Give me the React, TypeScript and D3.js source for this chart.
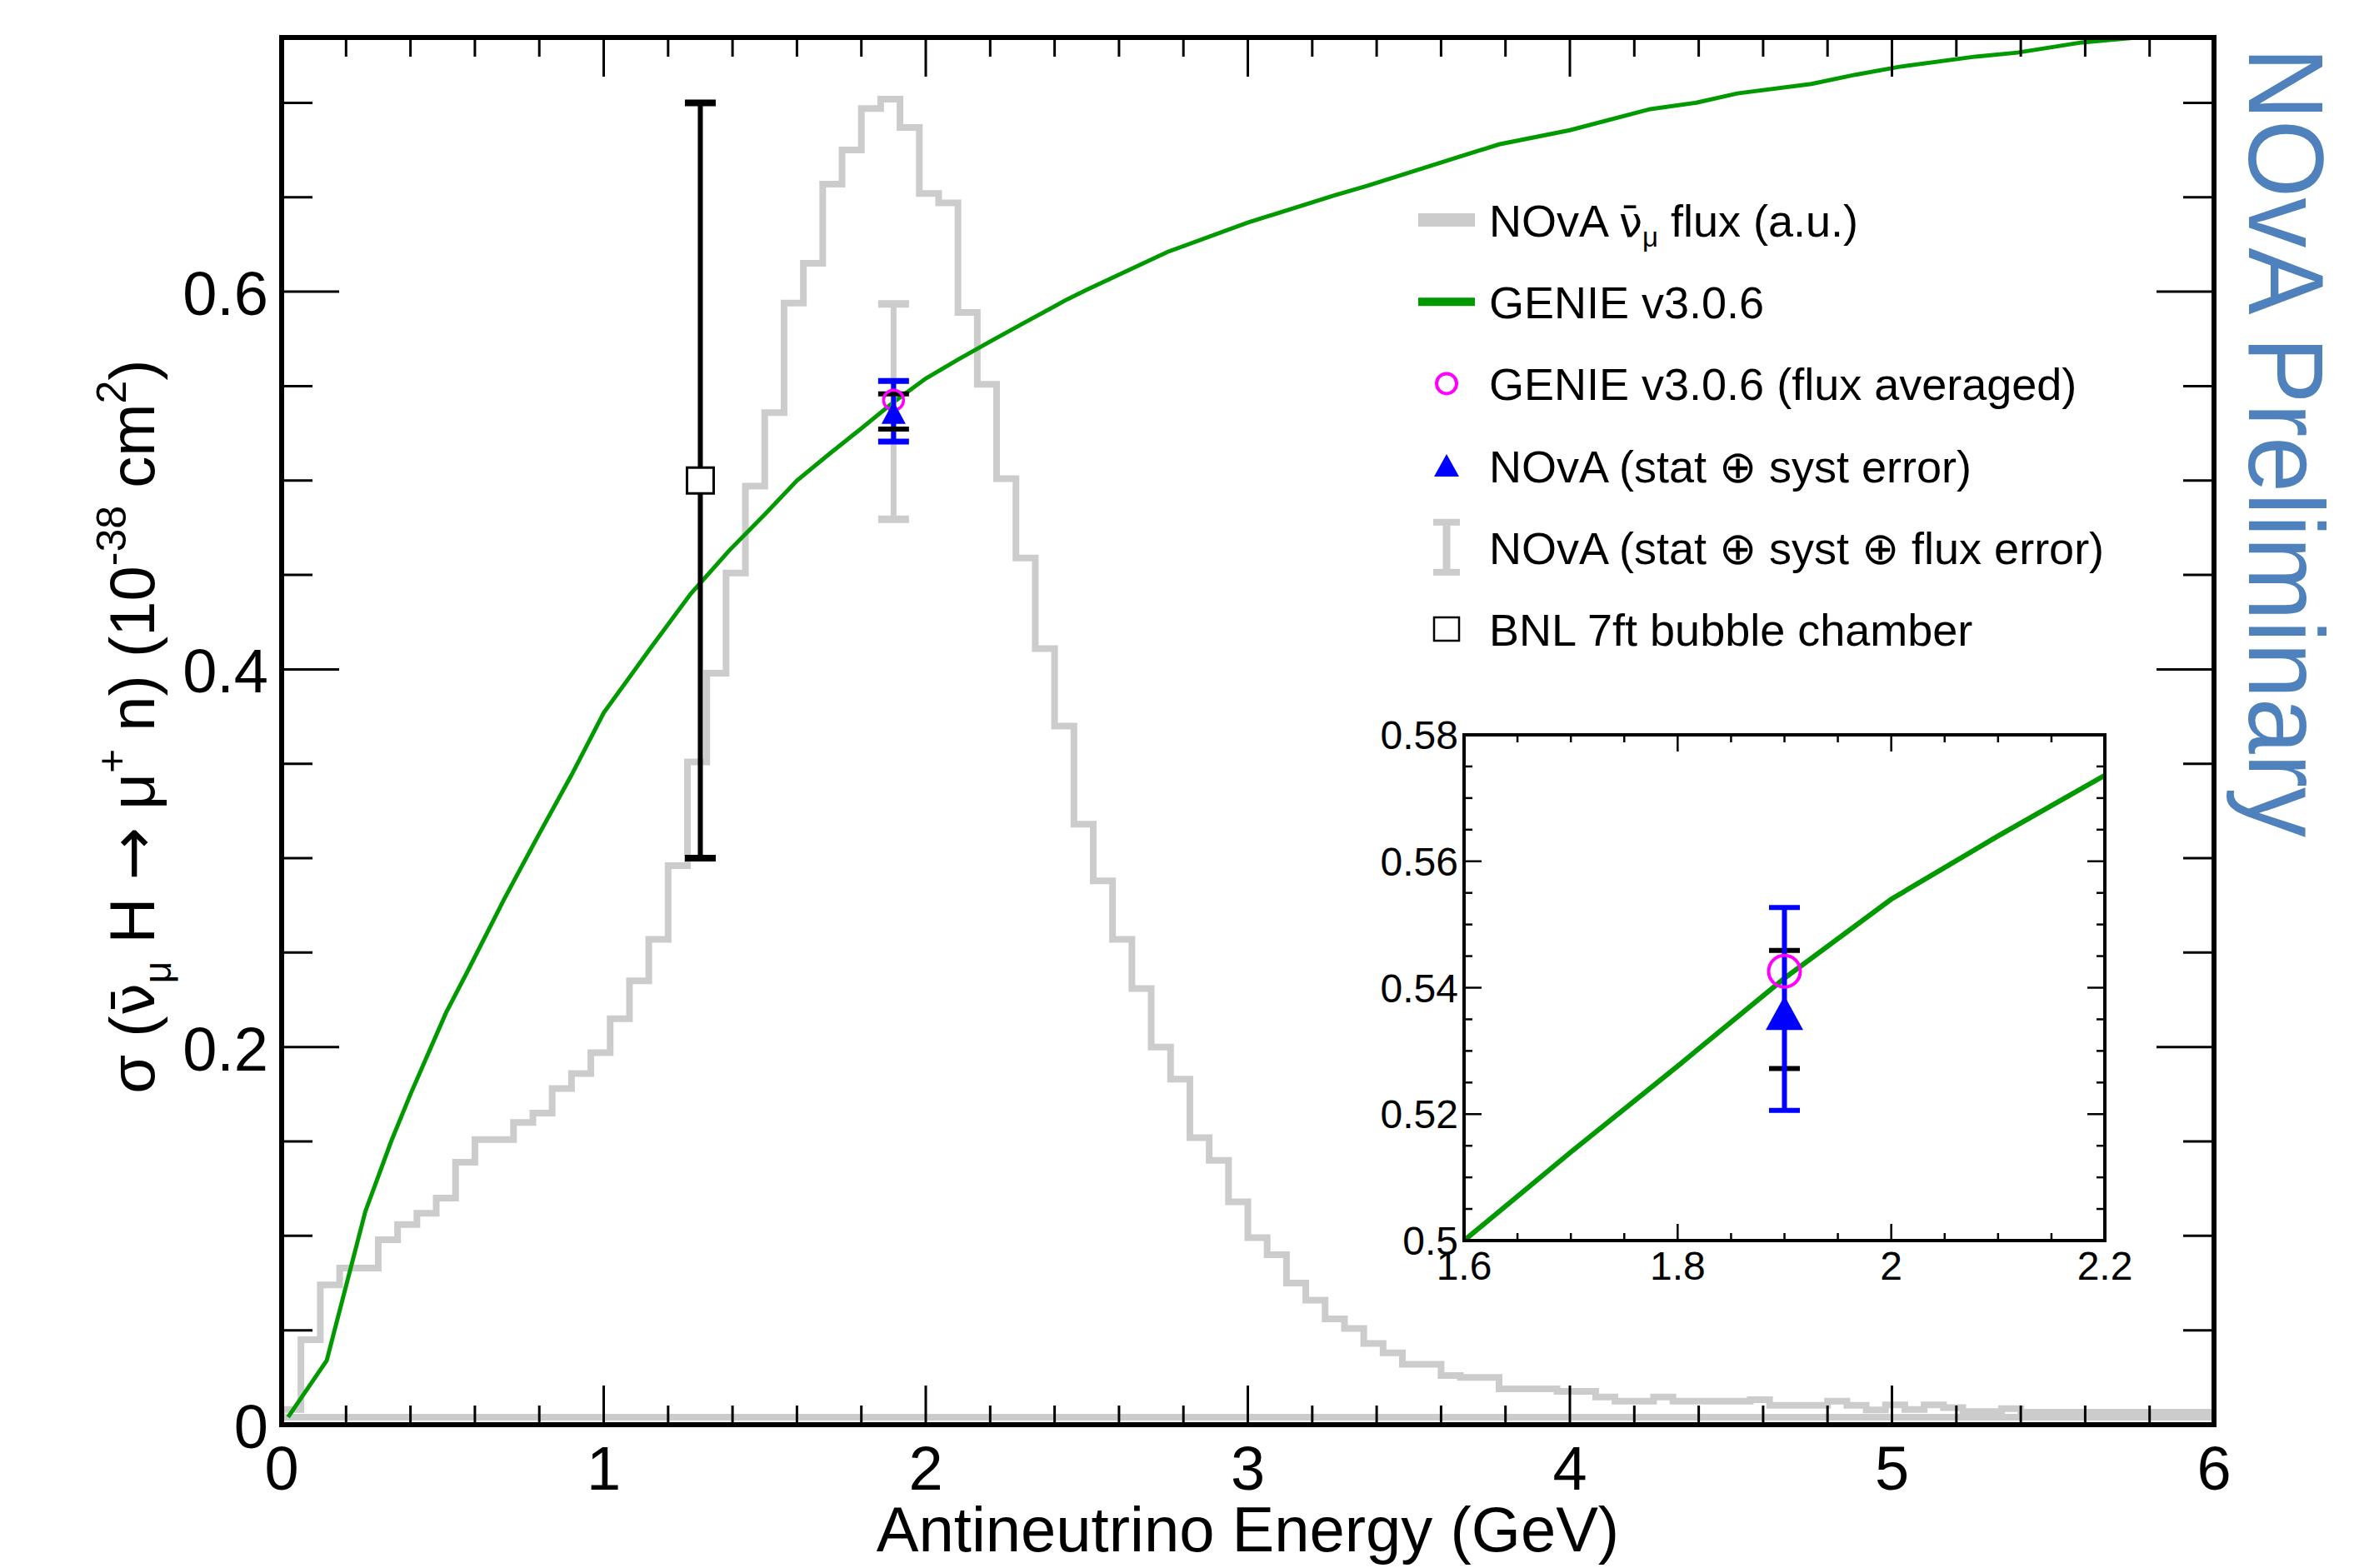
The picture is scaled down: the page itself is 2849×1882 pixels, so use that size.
import React from 'react';
import * as d3 from 'd3';

// NOvA anti-numu flux, 100 bins of 0.06 GeV (arbitrary units, drawn on the sigma scale)
const fluxBinWidth = 0.06;
const fluxValues = [
  0.008, 0.045, 0.074, 0.083, 0.083, 0.098, 0.106, 0.112, 0.12, 0.139,
  0.151, 0.151, 0.16, 0.165, 0.178, 0.186, 0.197, 0.215, 0.235, 0.257,
  0.296, 0.351, 0.398, 0.451, 0.497, 0.536, 0.594, 0.615, 0.657, 0.675,
  0.697, 0.702, 0.687, 0.652, 0.647, 0.589, 0.551, 0.501, 0.459, 0.411,
  0.37, 0.318, 0.288, 0.257, 0.231, 0.2, 0.183, 0.152, 0.14, 0.118,
  0.099, 0.09, 0.075, 0.066, 0.056, 0.051, 0.043, 0.038, 0.032, 0.032,
  0.026, 0.025, 0.025, 0.019, 0.019, 0.019, 0.0176, 0.0176, 0.0147, 0.0125,
  0.0125, 0.0147, 0.0125, 0.0125, 0.0125, 0.0125, 0.0132, 0.0103, 0.0103, 0.0103,
  0.0125, 0.0103, 0.0078, 0.0105, 0.008, 0.0105, 0.009, 0.007, 0.007, 0.0085,
  0.0066, 0.0066, 0.0066, 0.0066, 0.0066, 0.0066, 0.0066, 0.0066, 0.0066, 0.0066,
];

// GENIE v3.0.6 cross section (1e-38 cm2)
const genieEnergy = [
  0.02, 0.14, 0.26, 0.34, 0.4, 0.51, 0.58, 0.69, 0.8, 0.9, 1.0, 1.14, 1.27, 1.39, 1.5,
  1.6, 1.7, 1.8, 1.9, 2.0, 2.1, 2.2, 2.3, 2.44, 2.5, 2.75, 3.0, 3.27, 3.37, 3.63, 3.78,
  4.0, 4.25, 4.39, 4.52, 4.75, 4.89, 5.02, 5.26, 5.39, 5.59, 5.76, 6.0,
];
const genieXsec = [
  0.004, 0.034, 0.113, 0.15, 0.175, 0.218, 0.241, 0.278, 0.313, 0.344, 0.377, 0.41, 0.44, 0.463, 0.482,
  0.5, 0.514, 0.5276, 0.5415, 0.554, 0.564, 0.5736, 0.583, 0.596, 0.601, 0.621, 0.6366, 0.651, 0.656, 0.67, 0.678,
  0.6855, 0.6967, 0.7, 0.705, 0.71, 0.715, 0.719, 0.7245, 0.7266, 0.732, 0.7346, 0.74,
];

// measurements
const novaEnergy = 1.9;
const novaXsec = 0.536;
const novaStat = [0.5272, 0.5459];
const novaStatSyst = [0.5206, 0.5527];
const novaWithFlux = [0.4795, 0.5935];
const genieFluxAveraged = 0.5426;
const bnlEnergy = 1.3;
const bnlXsec = 0.5;
const bnlRange = [0.3, 0.7];

const mainXTicks = [0, 1, 2, 3, 4, 5, 6];
const mainYTicks = [0, 0.2, 0.4, 0.6];
const insetXTicks = [1.6, 1.8, 2, 2.2];
const insetYTicks = [0.5, 0.52, 0.54, 0.56, 0.58];

const legendLabels = [
  'flux',
  'GENIE v3.0.6',
  'GENIE v3.0.6 (flux averaged)',
  'NOvA (stat \u2295 syst error)',
  'NOvA (stat \u2295 syst \u2295 flux error)',
  'BNL 7ft bubble chamber',
];

const FONT = "'Liberation Sans', Arial, Helvetica, sans-serif";
const SYM = "'DejaVu Sans', 'Liberation Sans', sans-serif";
const GRAY = '#cccccc';
const GREEN = '#009a00';
const BLUE = '#0000ff';
const MAGENTA = '#ff00ff';

const fmt = (d: number) => String(+d.toFixed(3));

function Ticks({ xs, ys, xMajor, yMajor, len, width }: any) {
  const [x0, x1] = xs.range();
  const [y0, y1] = ys.range(); // y0 bottom, y1 top
  const xMinor = xs.ticks(xMajor.length > 4 ? 30 : 12);
  const yMinor = ys.ticks(yMajor.length === 4 ? 15 : 16);
  const isMaj = (arr: number[], v: number) => arr.some((m) => Math.abs(m - v) < 1e-9);
  const out: any[] = [];
  xMinor.forEach((v: number, i: number) => {
    const L = isMaj(xMajor, v) ? len.xMaj : len.xMin;
    const px = xs(v);
    out.push(<line key={'xb' + i} x1={px} x2={px} y1={y0} y2={y0 - L} />);
    out.push(<line key={'xt' + i} x1={px} x2={px} y1={y1} y2={y1 + L} />);
  });
  yMinor.forEach((v: number, i: number) => {
    const L = isMaj(yMajor, v) ? len.yMaj : len.yMin;
    const py = ys(v);
    out.push(<line key={'yl' + i} x1={x0} x2={x0 + L} y1={py} y2={py} />);
    out.push(<line key={'yr' + i} x1={x1} x2={x1 - L} y1={py} y2={py} />);
  });
  return <g stroke="#000" strokeWidth={width}>{out}</g>;
}

function ErrorBar({ cx, yLo, yHi, color, lineW, capW, capT, drawLine = true }: any) {
  return (
    <g stroke={color}>
      {drawLine && <line x1={cx} x2={cx} y1={yLo} y2={yHi} strokeWidth={lineW} />}
      <line x1={cx - capW / 2} x2={cx + capW / 2} y1={yLo} y2={yLo} strokeWidth={capT} />
      <line x1={cx - capW / 2} x2={cx + capW / 2} y1={yHi} y2={yHi} strokeWidth={capT} />
    </g>
  );
}

const triangle = (cx: number, cy: number, w: number, h: number) =>
  `M${cx},${cy - h / 2}L${cx + w / 2},${cy + h / 2}L${cx - w / 2},${cy + h / 2}Z`;

export default function App() {
  const x = d3.scaleLinear().domain([0, 6]).range([338, 2657]);
  const y = d3.scaleLinear().domain([0, 0.7346]).range([1710, 45]);
  const xi = d3.scaleLinear().domain([1.6, 2.2]).range([1757, 2526]);
  const yi = d3.scaleLinear().domain([0.5, 0.58]).range([1489, 882]);

  const fluxPts: [number, number][] = fluxValues.map((v, i) => [i * fluxBinWidth, v]);
  fluxPts.push([fluxValues.length * fluxBinWidth, fluxValues[fluxValues.length - 1]]);
  const stepLine = d3
    .line<[number, number]>()
    .x((d) => x(d[0]))
    .y((d) => y(d[1]))
    .curve(d3.curveStepAfter);
  const fluxPath = `M${x(0)},${y(0) - 9}L` + (stepLine(fluxPts) as string).slice(1);

  const geniePts: [number, number][] = genieEnergy.map((e, i) => [e, genieXsec[i]]);
  const genieMain = d3.line<[number, number]>().x((d) => x(d[0])).y((d) => y(d[1]))(geniePts) as string;
  const genieInset = d3.line<[number, number]>().x((d) => xi(d[0])).y((d) => yi(d[1]))(geniePts) as string;

  const nx = x(novaEnergy);
  const bx = x(bnlEnergy);
  const nxi = xi(novaEnergy);

  const legendRowY = d3.range(legendLabels.length).map((i) => 264 + i * 98.2);
  const legX = 1736;
  const legTextX = 1787;

  return (
    <svg
      width={2849}
      height={1882}
      style={{ position: 'absolute', left: 0, top: 0, display: 'block', background: '#fff' }}
      fontFamily={FONT}
    >
      <defs>
        <clipPath id="mainClip">
          <rect x={x(0)} y={y(0.7346)} width={x(6) - x(0)} height={y(0) - y(0.7346)} />
        </clipPath>
        <clipPath id="insetClip">
          <rect x={xi(1.6)} y={yi(0.58)} width={xi(2.2) - xi(1.6)} height={yi(0.5) - yi(0.58)} />
        </clipPath>
      </defs>
      <rect width={2849} height={1882} fill="#fff" />

      <g clipPath="url(#mainClip)">
        <line x1={x(0)} x2={x(6)} y1={y(0) - 9} y2={y(0) - 9} stroke={GRAY} strokeWidth={8} />
        <path d={fluxPath} fill="none" stroke={GRAY} strokeWidth={8} />
        <path d={genieMain} fill="none" stroke={GREEN} strokeWidth={5} />

        {/* BNL */}
        <ErrorBar cx={bx} yLo={y(bnlRange[0])} yHi={y(bnlRange[1])} color="#000" lineW={6} capW={37} capT={8} />
        <rect x={bx - 16} y={y(bnlXsec) - 15.5} width={32} height={31} fill="#fff" stroke="#000" strokeWidth={3} />

        {/* NOvA */}
        <ErrorBar cx={nx} yLo={y(novaWithFlux[0])} yHi={y(novaWithFlux[1])} color={GRAY} lineW={7} capW={37} capT={9} />
        <ErrorBar cx={nx} yLo={y(novaStatSyst[0])} yHi={y(novaStatSyst[1])} color={BLUE} lineW={6} capW={37} capT={7} />
        <ErrorBar cx={nx} yLo={y(novaStat[0])} yHi={y(novaStat[1])} color="#000" capW={37} capT={6} drawLine={false} />
        <circle cx={nx} cy={y(genieFluxAveraged)} r={12} fill="none" stroke={MAGENTA} strokeWidth={3.5} />
        <path d={triangle(nx, y(novaXsec), 29, 27)} fill={BLUE} />
      </g>

      <Ticks xs={x} ys={y} xMajor={mainXTicks} yMajor={mainYTicks} len={{ xMaj: 47, xMin: 23, yMaj: 69, yMin: 37 }} width={3} />
      <rect x={x(0)} y={y(0.7346)} width={x(6) - x(0)} height={y(0) - y(0.7346)} fill="none" stroke="#000" strokeWidth={6} />

      {/* main tick labels */}
      <g fontSize={74} fill="#000">
        {mainXTicks.map((t) => (
          <text key={'mx' + t} x={x(t)} y={1788} textAnchor="middle">{fmt(t)}</text>
        ))}
        {mainYTicks.map((t) => (
          <text key={'my' + t} x={322} y={y(t) + 28} textAnchor="end">{fmt(t)}</text>
        ))}
      </g>

      <text x={(x(0) + x(6)) / 2} y={1862} fontSize={76} textAnchor="middle">Antineutrino Energy (GeV)</text>

      <text transform="translate(185,872) rotate(-90)" fontSize={76} textAnchor="middle">
        {'\u03c3 ('}
        <tspan fontFamily={SYM} fontSize={70}>{'\u03bd\u0304'}</tspan>
        <tspan dy={20} fontSize={46}>{'\u03bc'}</tspan>
        <tspan dy={-20}>{' H '}</tspan>
        <tspan fontFamily={SYM}>{'\u2192'}</tspan>
        <tspan>{' \u03bc'}</tspan>
        <tspan dy={-34} fontSize={50}>+</tspan>
        <tspan dy={34}>{' n) (10'}</tspan>
        <tspan dy={-34} fontSize={50}>-38</tspan>
        <tspan dy={34}>{' cm'}</tspan>
        <tspan dy={-34} fontSize={50}>2</tspan>
        <tspan dy={34}>)</tspan>
      </text>

      {/* legend */}
      <g>
        <line x1={1702} x2={1770} y1={legendRowY[0]} y2={legendRowY[0]} stroke={GRAY} strokeWidth={16} />
        <line x1={1702} x2={1770} y1={legendRowY[1]} y2={legendRowY[1]} stroke={GREEN} strokeWidth={10} />
        <circle cx={legX} cy={legendRowY[2]} r={12} fill="none" stroke={MAGENTA} strokeWidth={4} />
        <path d={triangle(legX, legendRowY[3], 30, 27)} fill={BLUE} />
        <ErrorBar cx={legX} yLo={legendRowY[4] + 30} yHi={legendRowY[4] - 30} color={GRAY} lineW={9} capW={32} capT={8} />
        <rect x={legX - 15} y={legendRowY[5] - 14} width={30} height={28} fill="#fff" stroke="#000" strokeWidth={2.5} />
        <g fontSize={54} fill="#000">
          <text x={legTextX} y={legendRowY[0] + 20}>
            {'NOvA '}
            <tspan fontFamily={SYM} fontSize={50}>{'\u03bd\u0304'}</tspan>
            <tspan dy={12} fontSize={33}>{'\u03bc'}</tspan>
            <tspan dy={-12}>{' flux (a.u.)'}</tspan>
          </text>
          {legendLabels.slice(1).map((s, i) => (
            <text key={s} x={legTextX} y={legendRowY[i + 1] + 20}>{s}</text>
          ))}
        </g>
      </g>

      {/* inset */}
      <rect x={xi(1.6)} y={yi(0.58)} width={xi(2.2) - xi(1.6)} height={yi(0.5) - yi(0.58)} fill="#fff" />
      <g clipPath="url(#insetClip)">
        <path d={genieInset} fill="none" stroke={GREEN} strokeWidth={6} />
      </g>
      <ErrorBar cx={nxi} yLo={yi(novaStat[0])} yHi={yi(novaStat[1])} color="#000" capW={37} capT={6} drawLine={false} />
      <ErrorBar cx={nxi} yLo={yi(novaStatSyst[0])} yHi={yi(novaStatSyst[1])} color={BLUE} lineW={6} capW={37} capT={6} />
      <circle cx={nxi} cy={yi(genieFluxAveraged)} r={19} fill="none" stroke={MAGENTA} strokeWidth={4} />
      <path d={triangle(nxi, yi(novaXsec), 45, 41)} fill={BLUE} />
      <Ticks xs={xi} ys={yi} xMajor={insetXTicks} yMajor={insetYTicks} len={{ xMaj: 20, xMin: 9, yMaj: 21, yMin: 10 }} width={2.5} />
      <rect x={xi(1.6)} y={yi(0.58)} width={xi(2.2) - xi(1.6)} height={yi(0.5) - yi(0.58)} fill="none" stroke="#000" strokeWidth={4} />
      <g fontSize={48} fill="#000">
        {insetXTicks.map((t) => (
          <text key={'ix' + t} x={xi(t)} y={1536} textAnchor="middle">{fmt(t)}</text>
        ))}
        {insetYTicks.map((t) => (
          <text key={'iy' + t} x={1750} y={yi(t) + 17} textAnchor="end">{fmt(t)}</text>
        ))}
      </g>

      <text
        transform="translate(2699,57) rotate(90)"
        fontSize={128}
        fill="#4f81bd"
        textLength={948}
        lengthAdjust="spacingAndGlyphs"
      >
        NOvA Preliminary
      </text>
    </svg>
  );
}
